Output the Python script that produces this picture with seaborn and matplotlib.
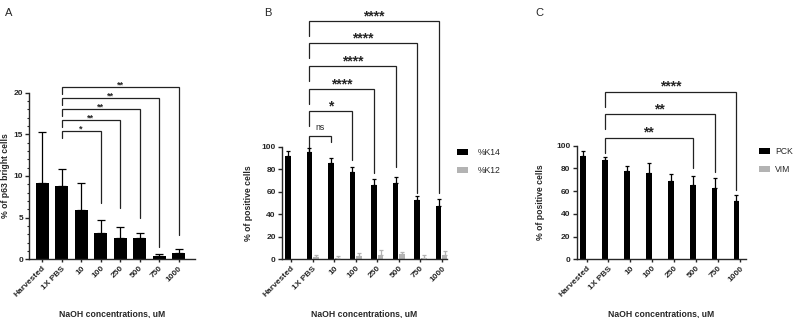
import numpy as np
import pandas as pd
import matplotlib
matplotlib.use("Agg")
import matplotlib.pyplot as plt
import seaborn as sns

# x categories (NaOH concentration)
concs = ["Harvested", "1X PBS", "10", "100", "250", "500", "750", "1000"]

# panel A: % of p63 bright cells (mean, SD)
p63_mean = [9.1, 8.8, 5.9, 3.1, 2.55, 2.6, 0.36, 0.75]
p63_sd = [6.2, 2.05, 3.3, 1.6, 1.35, 0.55, 0.24, 0.45]

# panel B: %K14 / %K12
k14_mean = [91.3, 95.7, 85.4, 77.9, 66.0, 68.2, 52.8, 46.9]
k14_sd = [4.6, 2.9, 4.4, 3.8, 5.0, 5.3, 3.7, 6.5]
k12_mean = [0.0, 2.0, 1.5, 2.5, 3.5, 4.5, 1.0, 3.5]
k12_sd = [0.0, 2.0, 1.5, 3.5, 4.5, 2.0, 3.0, 4.0]

# panel C: PCK / VIM
pck_mean = [90.8, 87.3, 78.0, 76.0, 68.8, 65.0, 63.0, 51.0]
pck_sd = [4.4, 2.4, 4.0, 8.4, 6.2, 8.2, 8.3, 5.3]
vim_mean = [0, 0, 0, 0, 0, 0, 0, 0]
vim_sd = [0, 0, 0, 0, 0, 0, 0, 0]

# significance brackets: (target category, bracket height, right leg end, label)
sig_a = [("100", 15.4, 6.8, "*"), ("250", 16.7, 6.1, "**"), ("500", 18.0, 4.9, "**"),
         ("750", 19.35, 1.5, "**"), ("1000", 20.65, 2.9, "**")]
sig_b = [("10", 109.8, 104.4, "ns"), ("100", 131.7, 88.2, "*"), ("250", 151.2, 76.4, "****"),
         ("500", 171.7, 82.3, "****"), ("750", 191.8, 58.9, "****"), ("1000", 211.6, 58.9, "****")]
sig_c = [("500", 107.0, 80.0, "**"), ("750", 127.6, 77.0, "**"), ("1000", 147.5, 61.0, "****")]

GREY = "#b3b3b3"

sns.set_theme(style="ticks")
plt.rcParams["font.family"] = ["Liberation Sans", "DejaVu Sans"]
plt.rcParams["axes.linewidth"] = 1.0
plt.rcParams["xtick.major.width"] = 1.0
plt.rcParams["ytick.major.width"] = 1.0
plt.rcParams["ytick.minor.width"] = 0.8
plt.rcParams["xtick.major.size"] = 2.5
plt.rcParams["ytick.major.size"] = 3
plt.rcParams["ytick.minor.size"] = 1.8
plt.rcParams["xtick.major.pad"] = 1.5
plt.rcParams["ytick.major.pad"] = 1.5

fig = plt.figure(figsize=(7.96, 3.18), dpi=100)
axA = fig.add_axes([0.0368, 0.1846, 0.2082, 0.5239])
axB = fig.add_axes([0.3543, 0.1846, 0.2073, 0.3541])
axC = fig.add_axes([0.7245, 0.1846, 0.2127, 0.3572])


def add_errors(ax, container, means, sds, color, cap):
    xs = [b.get_x() + b.get_width() / 2 for b in container]
    for x, m, s in zip(xs, means, sds):
        if s > 0:
            ax.errorbar(x, m, yerr=[[0], [s]], fmt="none", ecolor=color,
                        elinewidth=0.9, capsize=cap, capthick=0.9, clip_on=False, zorder=3)
    return xs


def add_brackets(ax, xs, sigs, drop, star_fs, lw=0.9):
    x0 = xs[concs.index("1X PBS")]
    for target, y, end, label in sigs:
        x1 = xs[concs.index(target)]
        ax.plot([x0, x0, x1, x1], [y - drop, y, y, end], color="#222222", lw=lw,
                clip_on=False, solid_joinstyle="miter")
        if label == "ns":
            ax.annotate(label, xy=((x0 + x1) / 2, y), xytext=(0, 2.5), textcoords="offset points",
                        ha="center", va="bottom", fontsize=6.3, annotation_clip=False)
        else:
            ax.annotate(label, xy=((x0 + x1) / 2, y), xytext=(0, -1.5), textcoords="offset points",
                        ha="center", va="bottom", fontsize=star_fs, fontweight="bold",
                        annotation_clip=False)


def style_axis(ax, ylabel, labelx):
    sns.despine(ax=ax)
    ax.set_xlabel("NaOH concentrations, uM", fontsize=6.2, fontweight="bold", labelpad=8)
    ax.set_ylabel(ylabel, fontsize=6.2, fontweight="bold")
    ax.yaxis.set_label_coords(labelx, 0.5)
    for t in ax.get_yticklabels():
        t.set_fontsize(6)
        t.set_fontweight("bold")
    ax.set_xticks(range(len(concs)))
    ax.set_xticklabels(concs, rotation=45, ha="right", va="top", rotation_mode="anchor",
                       fontsize=6, fontweight="bold")


# ---- panel A ----
dfA = pd.DataFrame({"conc": concs, "value": p63_mean})
sns.barplot(data=dfA, x="conc", y="value", order=concs, color="black", width=0.68,
            errorbar=None, saturation=1, linewidth=0, ax=axA)
xsA = add_errors(axA, axA.containers[0], p63_mean, p63_sd, "black", 2.6)
axA.set_ylim(0, 20)
axA.set_xlim(-0.66, 7.84)
axA.set_yticks([0, 5, 10, 15, 20])
axA.yaxis.set_minor_locator(matplotlib.ticker.MultipleLocator(1))
style_axis(axA, "% of p63 bright cells", -0.115)
add_brackets(axA, xsA, sig_a, 0.8, 6.5)

# ---- panel B ----
dfB = pd.DataFrame({"conc": concs * 2, "value": k14_mean + k12_mean,
                    "marker": ["%K14"] * 8 + ["%K12"] * 8})
sns.barplot(data=dfB, x="conc", y="value", hue="marker", order=concs,
            palette=["black", GREY], width=0.62, gap=0.15, errorbar=None, saturation=1,
            linewidth=0, ax=axB)
xsB = add_errors(axB, axB.containers[0], k14_mean, k14_sd, "black", 1.6)
add_errors(axB, axB.containers[1], k12_mean, k12_sd, GREY, 1.6)
axB.set_ylim(0, 100)
axB.set_xlim(-0.43, 7.24)
axB.set_yticks([0, 20, 40, 60, 80, 100])
style_axis(axB, "% of positive cells", -0.175)
add_brackets(axB, xsB, sig_b, 13.3, 10)
axB.legend(loc="upper left", bbox_to_anchor=(0.574, 0.535), bbox_transform=fig.transFigure,
           frameon=False, fontsize=6.2, handlelength=1.25, handleheight=0.7,
           handletextpad=1.2, labelspacing=1.05, borderaxespad=0, borderpad=0)

# ---- panel C ----
dfC = pd.DataFrame({"conc": concs * 2, "value": pck_mean + vim_mean,
                    "marker": ["PCK"] * 8 + ["VIM"] * 8})
sns.barplot(data=dfC, x="conc", y="value", hue="marker", order=concs,
            palette=["black", GREY], width=0.62, gap=0.15, errorbar=None, saturation=1,
            linewidth=0, ax=axC)
xsC = add_errors(axC, axC.containers[0], pck_mean, pck_sd, "black", 1.6)
axC.set_ylim(0, 100)
axC.set_xlim(-0.45, 7.28)
axC.set_yticks([0, 20, 40, 60, 80, 100])
style_axis(axC, "% of positive cells", -0.185)
add_brackets(axC, xsC, sig_c, 13.3, 10)
axC.legend(loc="upper left", bbox_to_anchor=(0.954, 0.537), bbox_transform=fig.transFigure,
           frameon=False, fontsize=6.2, handlelength=1.25, handleheight=0.7,
           handletextpad=0.55, labelspacing=1.05, borderaxespad=0, borderpad=0)

# panel letters
for x, letter in [(0.006, "A"), (0.332, "B"), (0.672, "C")]:
    fig.text(x, 0.975, letter, fontsize=8, va="top", ha="left")

fig.savefig("out.png", dpi=100)
